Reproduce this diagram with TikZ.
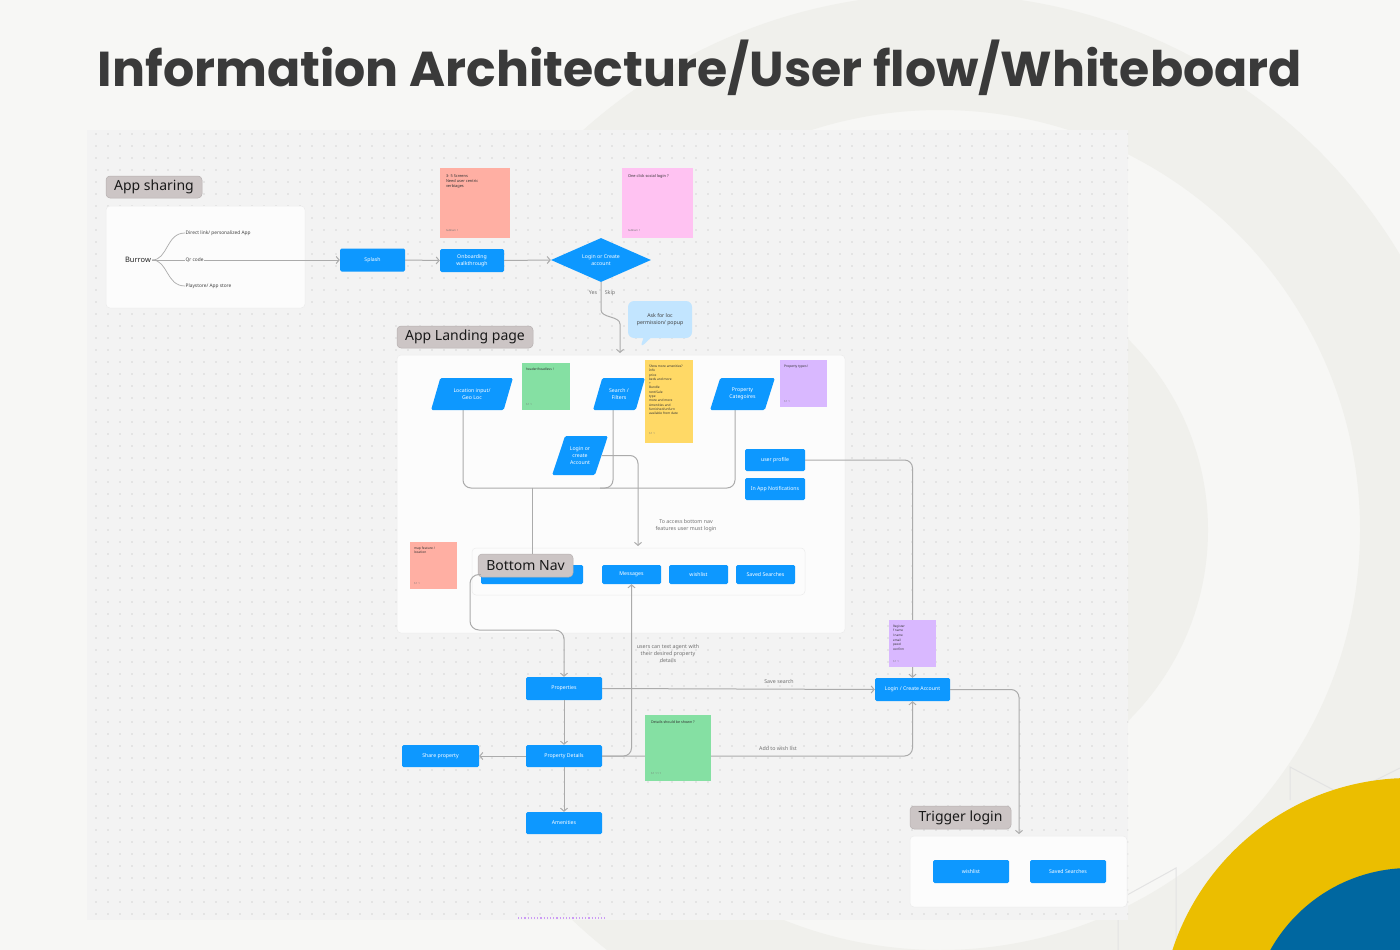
\documentclass[tikz,border=0pt]{standalone}
\usepackage{fontspec}
\setmainfont{Noto Sans}
\newfontfamily\titlefont{Poppins}
\usetikzlibrary{arrows.meta,shapes.geometric,shapes.callouts,patterns.meta}
\definecolor{bg}{HTML}{F7F7F5}
\definecolor{ringc}{HTML}{F0F0EC}
\definecolor{wb}{HTML}{F3F3F3}
\definecolor{dotc}{HTML}{B5B5B5}
\definecolor{fblue}{HTML}{0D98FF}
\definecolor{tagc}{HTML}{CCC5C5}
\definecolor{tagb}{HTML}{B6B0B0}
\definecolor{linec}{HTML}{ABABAB}
\definecolor{txtg}{HTML}{707070}
\definecolor{salmon}{HTML}{FFAFA3}
\definecolor{pinkn}{HTML}{FFC2F2}
\definecolor{greenn}{HTML}{85E0A3}
\definecolor{yellown}{HTML}{FFD966}
\definecolor{purplen}{HTML}{D9B8FF}
\definecolor{bubble}{HTML}{C2E5FF}
\definecolor{yel}{HTML}{EBBE00}
\definecolor{blu}{HTML}{0067A0}
\definecolor{titlec}{HTML}{3A3A3A}
\definecolor{panelc}{HTML}{FCFCFC}
\definecolor{panelb}{HTML}{ECECEC}
\definecolor{polyc}{HTML}{E3E3E3}
\tikzset{
  conn/.style={draw=linec, line width=1pt, -{Straight Barb[length=3pt,width=7pt]}},
  plain/.style={draw=linec, line width=1pt},
  box/.style={fill=fblue, rounded corners=1.5pt, text=white, font=\fontsize{5.2}{6.3}\selectfont, align=center, inner sep=0pt, minimum height=23pt},
  para/.style={trapezium, trapezium left angle=63, trapezium right angle=117, trapezium stretches=true, fill=fblue, text=white, font=\fontsize{5.2}{6.7}\selectfont, align=center, inner sep=0pt, rounded corners=1.5pt},
  panel/.style={fill=panelc, draw=panelb, line width=0.5pt, rounded corners=4pt, inner sep=0pt},
  tag/.style={fill=tagc, draw=tagb, line width=0.5pt, rounded corners=4pt, inner sep=0pt, minimum height=22pt, font=\fontsize{14}{16}\selectfont, text=black!90},
  note/.style={fill=#1, inner sep=0pt},
  ntext/.style={font=\fontsize{3.9}{4.8}\selectfont, text=black!80, align=left, inner sep=0pt},
  nfoot/.style={font=\fontsize{2.6}{3}\selectfont, text=black!55, inner sep=0pt},
  lbl/.style={text=txtg, font=\fontsize{5.3}{7}\selectfont, align=center, inner sep=0pt},
  small/.style={text=black!75, font=\fontsize{4.8}{6}\selectfont, inner sep=0.5pt},
}
\begin{document}
\begin{tikzpicture}[x=1pt,y=-1pt]
\useasboundingbox (0,0) rectangle (1400,950);
\fill[bg] (0,0) rectangle (1400,950);
\begin{scope}
\clip (0,0) rectangle (1400,950);
\fill[ringc, even odd rule] (940,530) circle (536) (940,530) circle (420);
\fill[ringc] (940,530) circle (268);
% faint outlines
\draw[polyc, line width=1pt] (1290,800) -- (1290,767) -- (1345,796);
\draw[polyc, line width=1pt] (1370,783) -- (1400,768);
\draw[polyc, line width=1pt] (1118,950) -- (1118,900) -- (1176,868) -- (1176,950);
\fill[yel] (1410,1028) circle (250);
\fill[blu] (1410,1028) circle (160);
\end{scope}

% title
\node[font=\titlefont\bfseries\fontsize{49}{55}\selectfont, text=titlec] (title) at (700,68) {Information Architecture/User flow/Whiteboard};

% whiteboard
\fill[wb] (87,130) rectangle (1128,920);
\fill[pattern={Dots[distance=12pt, radius=0.55pt]}, pattern color=dotc] (87,130) rectangle (1128,920);
\draw[pinkn!80!blue, dotted, line width=1.2pt] (518,918) -- (605,918);

% App sharing
\node[tag, minimum width=96pt] (tagapp) at (154,187) {App sharing};
\node[panel, minimum width=199pt, minimum height=102pt] (card) at (205.5,257) {};
\node[font=\bfseries\fontsize{7.5}{9}\selectfont, text=black!85, inner sep=1pt] (burrow) at (138,260) {Burrow};
\node[small, anchor=west] (direct) at (185,233) {Direct link/ personalized App};
\node[small, anchor=west] (qr) at (185,260) {Qr code};
\node[small, anchor=west] (play) at (185,286) {Playstore/ App store};
\draw[linec, line width=0.7pt] (burrow.east) .. controls (168,260) and (166,233) .. (direct.west);
\draw[linec, line width=0.7pt] (burrow.east) -- (qr.west);
\draw[linec, line width=0.7pt] (burrow.east) .. controls (168,260) and (166,286) .. (play.west);

% top flow
\node[box, minimum width=65pt] (splash) at (372.5,260) {Splash};
\node[box, minimum width=64pt] (onb) at (472,260.5) {Onboarding\\walkthrough};
\node[diamond, fill=fblue, minimum width=100pt, minimum height=44pt, inner sep=0pt, aspect=2.27, text=white, font=\fontsize{5.2}{6.7}\selectfont, align=center] (dia) at (601,260) {Login or Create\\account};
\draw[conn] (qr.east) -- (splash.west);
\draw[conn] (splash.east) -- (onb.west);
\draw[conn] (onb.east) -- (dia.west);

\node[note=salmon, minimum width=70pt, minimum height=70pt] (n1) at (475,203) {};
\node[ntext, anchor=north west] (n1t) at ([shift={(6,7)}]n1.north west) {3- 5 Screens\\Need user centric\\verbiages};
\node[nfoot, anchor=south west] (n1f) at ([shift={(6,-6)}]n1.south west) {Subham 1};
\node[note=pinkn, minimum width=71pt, minimum height=70pt] (n2) at (657.5,203) {};
\node[ntext, anchor=north west] (n2t) at ([shift={(6,7)}]n2.north west) {One click social login ?};
\node[nfoot, anchor=south west] (n2f) at ([shift={(6,-6)}]n2.south west) {Subham 1};

\node[lbl] (yes) at (593,293) {Yes};
\node[lbl] (skip) at (610,293) {Skip};
\coordinate (lpin) at (620,353);
\draw[conn] (dia.south) -- (601,310) .. controls (601,318) and (620,316) .. (620,324) -- (lpin);
\node[rectangle callout, fill=bubble, rounded corners=6pt, minimum width=64pt, minimum height=37pt, callout absolute pointer={(640,348)}, font=\fontsize{5.2}{6.7}\selectfont, align=center, text=black!75, inner sep=0pt] (bub) at (660,319.5) {Ask for loc\\permission/ popup};

% Landing page
\node[tag, minimum width=136pt] (tagland) at (465,337) {App Landing page};
\node[panel, minimum width=448pt, minimum height=278pt] (land) at (621,494) {};

\coordinate (mrg) at (532,488);
\draw[plain, rounded corners=8pt] (463,410) |- (mrg);
\draw[plain, rounded corners=8pt] (613,410) |- (mrg);
\draw[plain, rounded corners=8pt] (735,410) |- (600,488);

\node[para, minimum width=82pt, minimum height=32pt] (loc) at (472,394) {Location input/\\Geo Loc};
\node[para, minimum width=52pt, minimum height=32pt] (search) at (619,394) {Search /\\Filters};
\node[para, minimum width=65pt, minimum height=32pt] (cat) at (742.5,394) {Property\\Categoires};
\node[para, minimum width=56pt, minimum height=39pt] (acct) at (580,455.5) {Login or\\create\\Account};

\node[note=greenn, minimum width=48pt, minimum height=47pt] (n3) at (546,386.5) {};
\node[ntext, anchor=north west, font=\bfseries\fontsize{3.3}{4}\selectfont] (n3t) at ([shift={(4,5)}]n3.north west) {header/headless !};
\node[nfoot, anchor=south west] (n3f) at ([shift={(4,-4)}]n3.south west) {S 1 1};
\node[note=yellown, minimum width=48pt, minimum height=83pt] (n4) at (669,401.5) {};
\node[ntext, anchor=north west, font=\fontsize{3.2}{4.3}\selectfont] (n4t) at ([shift={(4,5)}]n4.north west) {Show more amenities?\\Info\\price\\beds and more\\+\\Bundle\\rent/Sale\\type\\more and more\\Amenities and\\furnished/unfurn\\available from date};
\node[nfoot, anchor=south west] (n4f) at ([shift={(4,-8)}]n4.south west) {S 1 1};
\node[note=purplen, minimum width=47pt, minimum height=47pt] (n5) at (803.5,383.5) {};
\node[ntext, anchor=north west, font=\fontsize{3.3}{4}\selectfont] (n5t) at ([shift={(4,5)}]n5.north west) {Property types !};
\node[nfoot, anchor=south west] (n5f) at ([shift={(4,-4)}]n5.south west) {S 1 1};

\node[box, minimum width=60pt, minimum height=22pt] (up) at (775,460) {user profile};
\node[box, minimum width=60pt, minimum height=22pt] (notif) at (775,489) {In App Notifications};

\node[lbl] (access) at (686,526) {To access bottom nav\\features user must login};

% bottom nav
\node[panel, minimum width=333pt, minimum height=47pt] (bnp) at (638.5,571.5) {};
\coordinate (bnin) at (638,546);
\draw[conn, rounded corners=8pt] (acct.east) -| (bnin);
\node[box, minimum width=102pt, minimum height=19pt] (bn1) at (532,574.5) {Home/ Explore/ Listings etc};
\node[box, minimum width=59pt, minimum height=19pt] (msg) at (631.5,574.5) {Messages};
\node[box, minimum width=59pt, minimum height=19pt] (wl) at (698.5,574.5) {wishlist};
\node[box, minimum width=59pt, minimum height=19pt] (ss) at (765.5,574.5) {Saved Searches};
\node[tag, minimum width=95pt, minimum height=23pt] (bntag) at (525.5,565.5) {Bottom Nav};
\draw[plain] (mrg) -- (mrg |- bntag.north);

\node[note=salmon, minimum width=47pt, minimum height=47pt] (n6) at (433.5,565.5) {};
\node[ntext, anchor=north west, font=\fontsize{3.3}{4}\selectfont] (n6t) at ([shift={(4,5)}]n6.north west) {map feature /\\location};
\node[nfoot, anchor=south west] (n6f) at ([shift={(4,-4)}]n6.south west) {S 1 1};

% lower flow
\node[box, minimum width=76pt, minimum height=23pt] (prop) at (564,688.5) {Properties};
\node[box, minimum width=76pt, minimum height=22pt] (det) at (564,756) {Property Details};
\node[box, minimum width=76pt, minimum height=22pt] (amen) at (564,823) {Amenities};
\node[box, minimum width=77pt, minimum height=22pt] (share) at (440.5,756) {Share property};
\node[box, minimum width=75pt, minimum height=23pt, font=\bfseries\fontsize{5.2}{6.3}\selectfont] (lca) at (912.5,689.5) {Login / Create Account};

\draw[conn, rounded corners=9pt] (bn1.west) -| (470,630) -| (prop.north);
\draw[conn] (prop.south) -- (det.north);
\draw[conn] (det.south) -- (amen.north);
\draw[conn] (det.west) -- (share.east);
\draw[conn, rounded corners=8pt] (det.east) -| (msg.south);
\draw[conn, rounded corners=8pt] (det.east) -| (lca.south);
\draw[conn] (prop.east) -- (lca.west);
\draw[conn, rounded corners=8pt] (up.east) -| (lca.north);
\coordinate (tin) at (1019,834);
\draw[conn, rounded corners=8pt] (lca.east) -| (tin);

\node[lbl] (textag) at (668,654) {users can text agent with\\their desired property\\details};
\node[lbl] (savel) at (779,682) {Save search};
\node[lbl] (addl) at (778,749) {Add to wish list};

\node[note=greenn, minimum width=66pt, minimum height=66pt] (n7) at (678,748) {};
\node[ntext, anchor=north west, font=\bfseries\fontsize{3.6}{4.4}\selectfont] (n7t) at ([shift={(6,6)}]n7.north west) {Details should be shown ?};
\node[nfoot, anchor=south west] (n7f) at ([shift={(6,-6)}]n7.south west) {S 1 1 1 1};
\node[note=purplen, minimum width=47pt, minimum height=47pt] (n8) at (912.5,643.5) {};
\node[ntext, anchor=north west, font=\fontsize{3.1}{4.6}\selectfont] (n8t) at ([shift={(4,5)}]n8.north west) {Register\\f name\\l name\\email\\pswd\\confirm};
\node[nfoot, anchor=south west] (n8f) at ([shift={(4,-4)}]n8.south west) {S 1 1};

% trigger login
\node[tag, minimum width=101pt, minimum height=23pt] (tagtrig) at (960.5,817.5) {Trigger login};
\node[panel, minimum width=217pt, minimum height=71pt] (trig) at (1018.5,871.5) {};
\node[box, minimum width=76pt, minimum height=23pt] (twl) at (971,871.5) {wishlist};
\node[box, minimum width=76pt, minimum height=23pt] (tss) at (1068,871.5) {Saved Searches};
\end{tikzpicture}
\end{document}
